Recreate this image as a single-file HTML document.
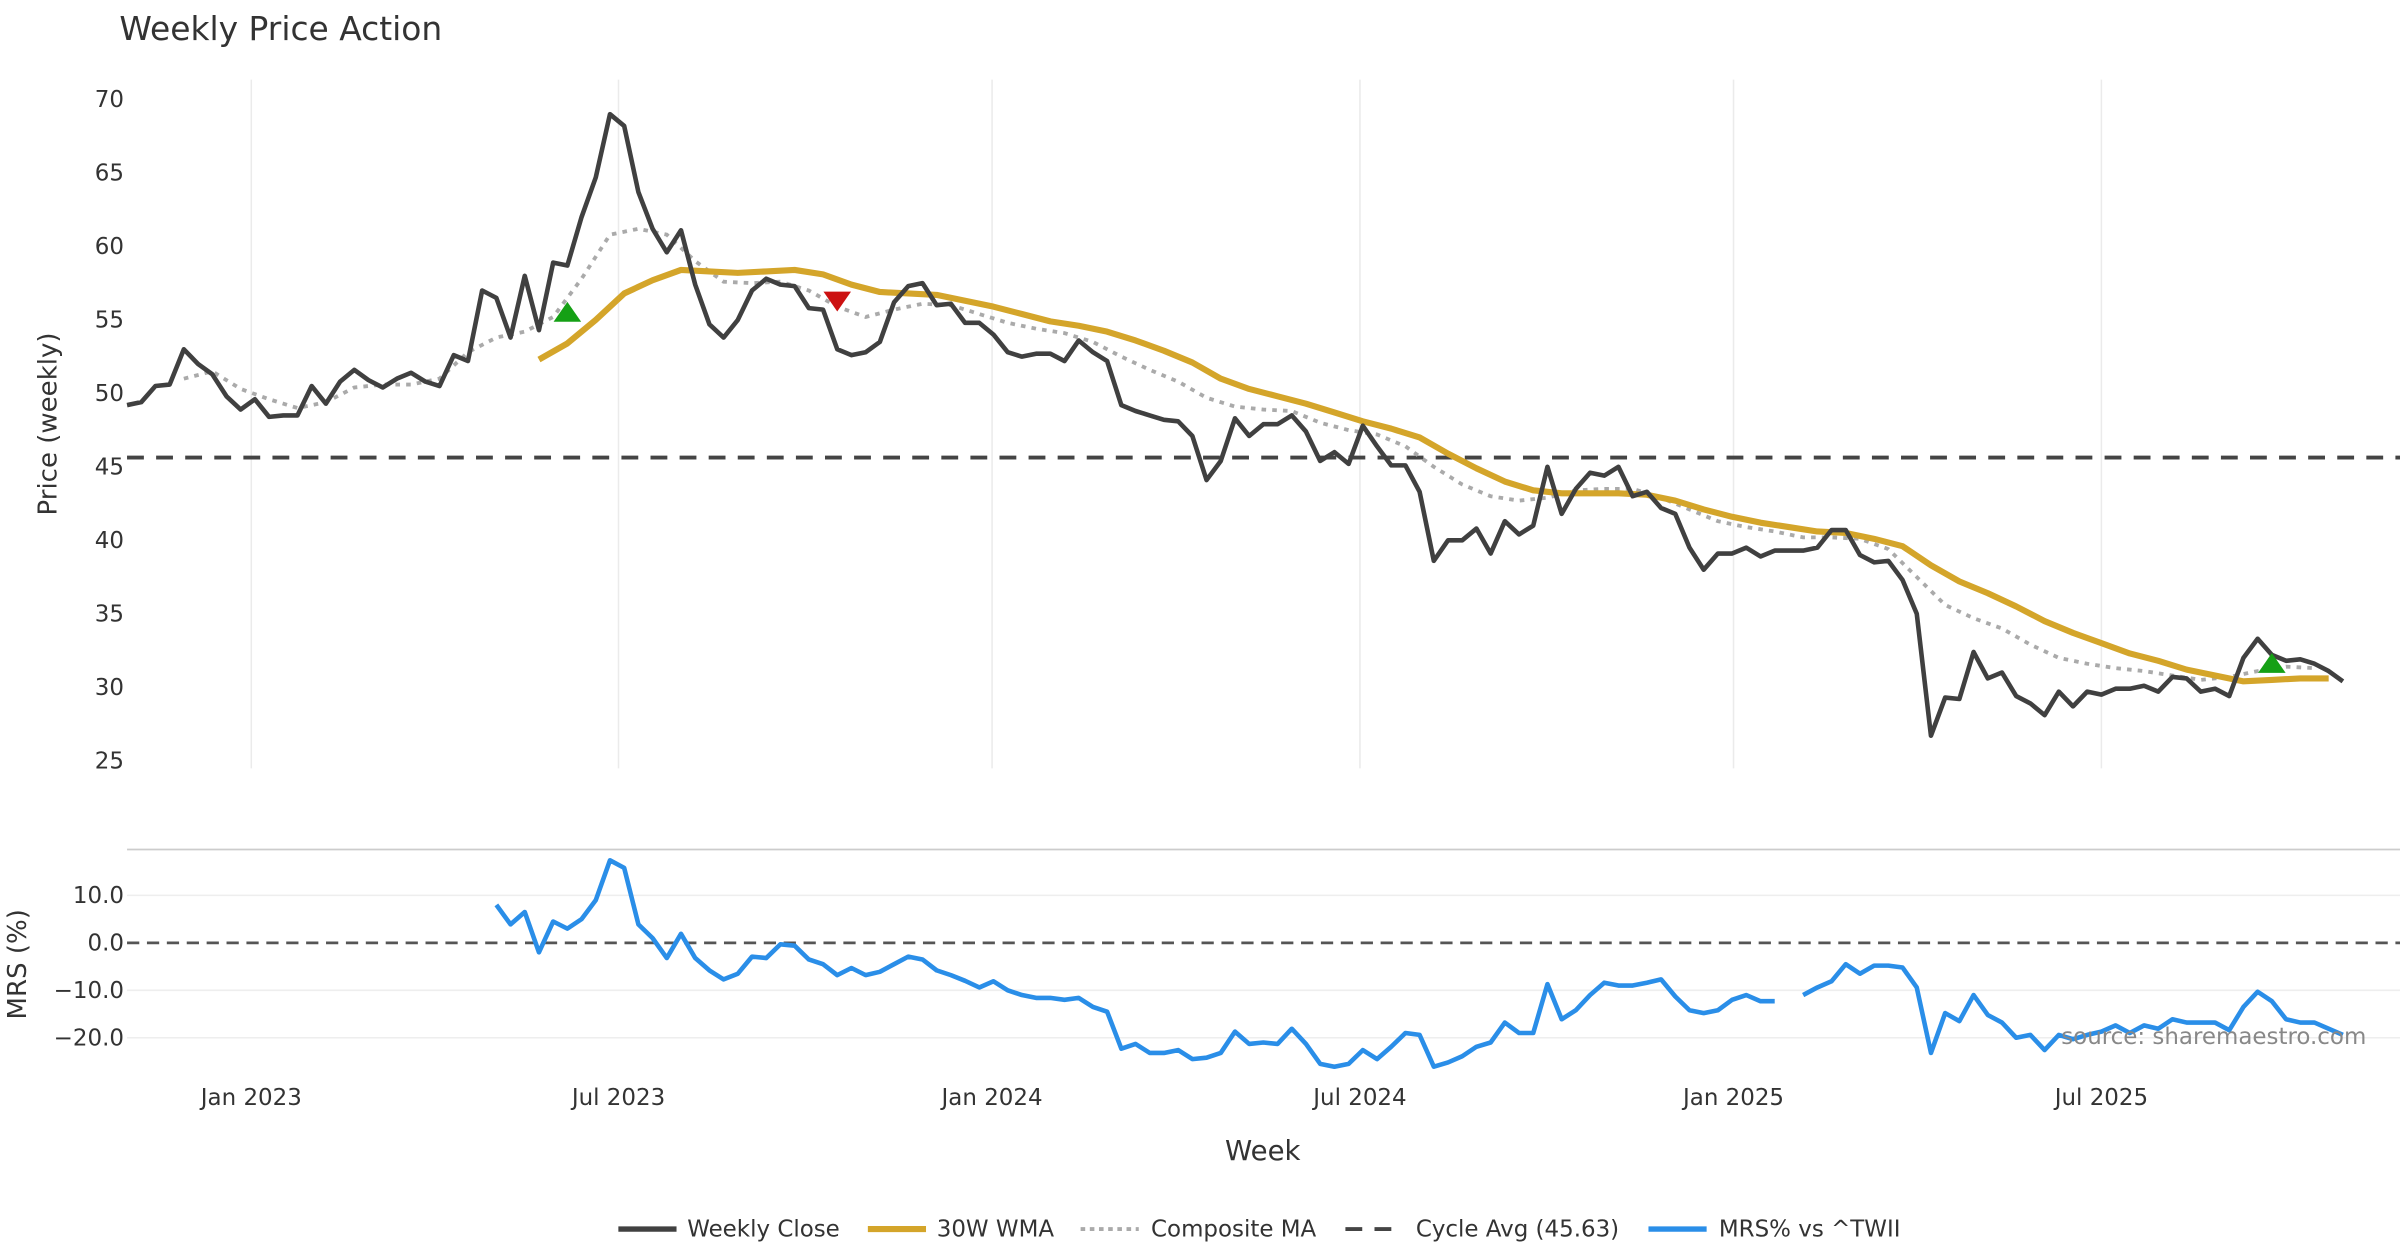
<!DOCTYPE html>
<html><head><meta charset="utf-8"><style>
html,body{margin:0;padding:0;background:#fff}
svg{display:block;font-family:"DejaVu Sans","Liberation Sans",sans-serif}
</style></head><body>
<svg id="chart" xmlns="http://www.w3.org/2000/svg" width="2400" height="1260" viewBox="0 0 1568 823.2">
<rect width="1568" height="823.2" fill="#fff"/>
<text x="78" y="26" font-size="21.5" fill="#333">Weekly Price Action</text>
<g id="grid"></g>
<g id="axes"></g>
<g id="series"></g>
<text transform="translate(37,277) rotate(-90)" text-anchor="middle" font-size="17" fill="#333">Price (weekly)</text>
<text transform="translate(17,630) rotate(-90)" text-anchor="middle" font-size="17" fill="#333">MRS (%)</text>
<text x="825" y="758" text-anchor="middle" font-size="18" fill="#333">Week</text>
<text x="1546" y="682" text-anchor="end" font-size="15" fill="#888">source: sharemaestro.com</text>
<g font-size="15" fill="#333">
 <g><line x1="404" y1="803" x2="442" y2="803" stroke="#404040" stroke-width="3.5"/><text x="449" y="808">Weekly Close</text></g>
 <g><line x1="567" y1="803" x2="605" y2="803" stroke="#d4a52a" stroke-width="4"/><text x="612" y="808">30W WMA</text></g>
 <g><line x1="706" y1="803" x2="744" y2="803" stroke="#aaa" stroke-width="2.5" stroke-dasharray="3,3"/><text x="752" y="808">Composite MA</text></g>
 <g><line x1="879" y1="803" x2="917" y2="803" stroke="#444" stroke-width="2.5" stroke-dasharray="11,8"/><text x="925" y="808">Cycle Avg (45.63)</text></g>
 <g><line x1="1077" y1="803" x2="1115" y2="803" stroke="#2a8ee8" stroke-width="3.5"/><text x="1123" y="808">MRS% vs ^TWII</text></g>
</g>
</svg>
<script>
const closeVals=[49.2,49.4,50.5,50.6,53.0,52.0,51.3,49.8,48.9,49.6,
48.4,48.5,48.5,50.5,49.3,50.8,51.6,50.9,50.4,51.0,
51.4,50.8,50.5,52.6,52.2,57.0,56.5,53.8,58.0,54.3,
58.9,58.7,62.0,64.7,69.0,68.2,63.7,61.2,59.6,61.1,
57.4,54.7,53.8,55.0,57.0,57.8,57.4,57.3,55.8,55.7,
53.0,52.6,52.8,53.5,56.2,57.3,57.5,56.0,56.1,54.8,
54.8,54.0,52.8,52.5,52.7,52.7,52.2,53.6,52.8,52.2,
49.2,48.8,48.5,48.2,48.1,47.1,44.1,45.4,48.3,47.1,
47.9,47.9,48.5,47.4,45.4,46.0,45.2,47.8,46.4,45.1,
45.1,43.3,38.6,40.0,40.0,40.8,39.1,41.3,40.4,41.0,
45.0,41.8,43.5,44.6,44.4,45.0,43.0,43.3,42.2,41.8,
39.5,38.0,39.1,39.1,39.5,38.9,39.3,39.3,39.3,39.5,
40.7,40.7,39.0,38.5,38.6,37.3,35.0,26.7,29.3,29.2,
32.4,30.6,31.0,29.4,28.9,28.1,29.7,28.7,29.7,29.5,
29.9,29.9,30.1,29.7,30.7,30.6,29.7,29.9,29.4,32.0,
33.3,32.2,31.8,31.9,31.6,31.1,30.4];
const wmaStart=29, wmaStep=2;
const wmaVals=[52.3,53.4,55.0,56.8,57.7,58.4,58.3,58.2,58.3,58.4,58.1,57.4,56.9,56.8,56.7,56.3,55.9,55.4,54.9,54.6,54.2,53.6,52.9,52.1,51.0,50.3,49.8,49.3,48.7,48.1,47.6,47.0,45.9,44.9,44.0,43.4,43.2,43.2,43.2,43.1,42.7,42.1,41.6,41.2,40.9,40.6,40.5,40.1,39.6,38.3,37.2,36.4,35.5,34.5,33.7,33.0,32.3,31.8,31.2,30.8,30.4,30.5,30.6,30.6];
const compStart=4, compStep=2;
const compVals=[51.0,51.5,50.3,49.6,49.0,49.4,50.4,50.6,50.6,51.0,52.8,53.8,54.2,55.2,57.8,60.8,61.2,60.8,59.0,57.6,57.5,57.6,57.0,55.9,55.2,55.7,56.1,56.0,55.4,54.8,54.4,54.1,53.5,52.5,51.6,50.8,49.7,49.1,48.9,48.8,48.0,47.5,47.2,46.4,45.0,43.8,43.0,42.7,42.9,43.4,43.5,43.5,42.9,42.1,41.3,40.9,40.6,40.2,40.2,40.1,39.4,37.5,35.6,34.7,34.0,32.9,32.0,31.6,31.3,31.1,30.8,30.5,30.7,31.1,31.4,31.3];
const mrsStart=26;
const mrsVals=[8.0,3.9,6.5,-2,4.5,3,5,9,17.4,15.8,3.9,1,-3.2,1.9,-3.2,-5.8,-7.7,-6.5,-2.9,-3.2,-0.3,-0.6,-3.5,-4.5,-6.8,-5.3,-6.8,-6.1,-4.5,-2.9,-3.5,-5.8,-6.8,-8,-9.4,-8.1,-10,-11,-11.6,-11.6,-12,-11.6,-13.5,-14.5,-22.3,-21.3,-23.2,-23.2,-22.6,-24.5,-24.2,-23.2,-18.7,-21.3,-21,-21.3,-18.1,-21.3,-25.5,-26.1,-25.5,-22.6,-24.5,-21.9,-19,-19.4,-26.1,-25.2,-23.9,-21.9,-21,-16.8,-19,-19,-8.7,-16.1,-14.2,-11,-8.4,-9,-9,-8.4,-7.7,-11.3,-14.2,-14.8,-14.2,-12,-11,-12.3,-12.3,null,-11,-9.4,-8.1,-4.5,-6.5,-4.8,-4.8,-5.2,-9.4,-23.2,-14.8,-16.5,-11,-15.2,-16.8,-20,-19.4,-22.6,-19.4,-20.3,-19.4,-18.7,-17.4,-19,-17.4,-18.1,-16.1,-16.8,-16.8,-16.8,-18.4,-13.5,-10.3,-12.3,-16.1,-16.8,-16.8,-18.1,-19.4];
const buyIdx=[31,151];
const buyVals=[55.5,31.6];
const sellIdx=[50];
const sellVals=[56.3];
const cycleAvg=45.63;
const priceTicks=[25,30,35,40,45,50,55,60,65,70];
const mrsTicks=[10,0,-10,-20];
const mrsTickLabels=["10.0","0.0","\u221210.0","\u221220.0"];
const dateTicks=["Jan 2023","Jul 2023","Jan 2024","Jul 2024","Jan 2025","Jul 2025"];
const dateTickWeeks=[8.75,34.6,60.9,86.8,113.1,139];

const NS="http://www.w3.org/2000/svg";
const X0=83, DX=9.28;
const xOf=i=>X0+i*DX;
const yP=v=>65+(70-v)*9.6;
const yM=v=>616-v*3.1;
function mk(tag,attrs,parent){const e=document.createElementNS(NS,tag);for(const k in attrs)e.setAttribute(k,attrs[k]);parent.appendChild(e);return e;}
const grid=document.getElementById('grid'),axes=document.getElementById('axes'),ser=document.getElementById('series');

dateTickWeeks.forEach((w,k)=>{
 const x=xOf(w);
 let l=mk('line',{x1:x,y1:52,x2:x,y2:502,stroke:'#ebebeb','stroke-width':1},grid);
 
 
 let t=mk('text',{x:x,y:722,'text-anchor':'middle','font-size':15,fill:'#333'},axes);
 t.textContent=dateTicks[k];
 
 
});
priceTicks.forEach(v=>{
 let t=mk('text',{x:81,y:yP(v)+5,'text-anchor':'end','font-size':15,fill:'#333'},axes);
 t.textContent=v;
 
 
});
let sep=mk('line',{x1:83,y1:555,x2:1568,y2:555,stroke:'#ccc','stroke-width':1.2},grid);


mrsTicks.forEach((v,k)=>{
 if(v!==0){let g=mk('line',{x1:83,y1:yM(v),x2:1568,y2:yM(v),stroke:'#eee','stroke-width':1},grid);
 
 }
 let t=mk('text',{x:81,y:yM(v)+5,'text-anchor':'end','font-size':15,fill:'#333'},axes);
 t.textContent=mrsTickLabels[k];
 
 
});
let z=mk('line',{x1:83,y1:yM(0),x2:1568,y2:yM(0),stroke:'#555','stroke-width':1.8,'stroke-dasharray':'8,5'},grid);


let ca=mk('line',{x1:83,y1:yP(cycleAvg),x2:1568,y2:yP(cycleAvg),stroke:'#444','stroke-width':2.5,'stroke-dasharray':'11,8'},ser);



function pathFrom(vals,start,step,yf){
 let d='',pen=false;
 vals.forEach((v,k)=>{if(v===null){pen=false;return;}const x=xOf(start+k*step),y=yf(v);d+=(pen?'L':'M')+x.toFixed(2)+','+y.toFixed(2);pen=true;});
 return d;
}
let cm=mk('path',{d:pathFrom(compVals,compStart,compStep,yP),fill:'none',stroke:'#aaa','stroke-width':2.5,'stroke-dasharray':'3,4'},ser);


let wm=mk('path',{d:pathFrom(wmaVals,wmaStart,wmaStep,yP),fill:'none',stroke:'#d4a52a','stroke-width':4,'stroke-linejoin':'round'},ser);


let cl=mk('path',{d:pathFrom(closeVals,0,1,yP),fill:'none',stroke:'#404040','stroke-width':3,'stroke-linejoin':'round'},ser);


let mr=mk('path',{d:pathFrom(mrsVals,mrsStart,1,yM),fill:'none',stroke:'#2a8ee8','stroke-width':3,'stroke-linejoin':'round'},ser);


buyIdx.forEach((i,k)=>{const x=xOf(i),y=yP(buyVals[k]);
 let p=mk('polygon',{points:`${x-9},${y+6} ${x+9},${y+6} ${x},${y-7}`,fill:'#15a015'},ser);
 
 });
sellIdx.forEach((i,k)=>{const x=xOf(i),y=yP(sellVals[k]);
 let p=mk('polygon',{points:`${x-9},${y-6} ${x+9},${y-6} ${x},${y+7}`,fill:'#cc1111'},ser);
 
 });
</script>
</body></html>
